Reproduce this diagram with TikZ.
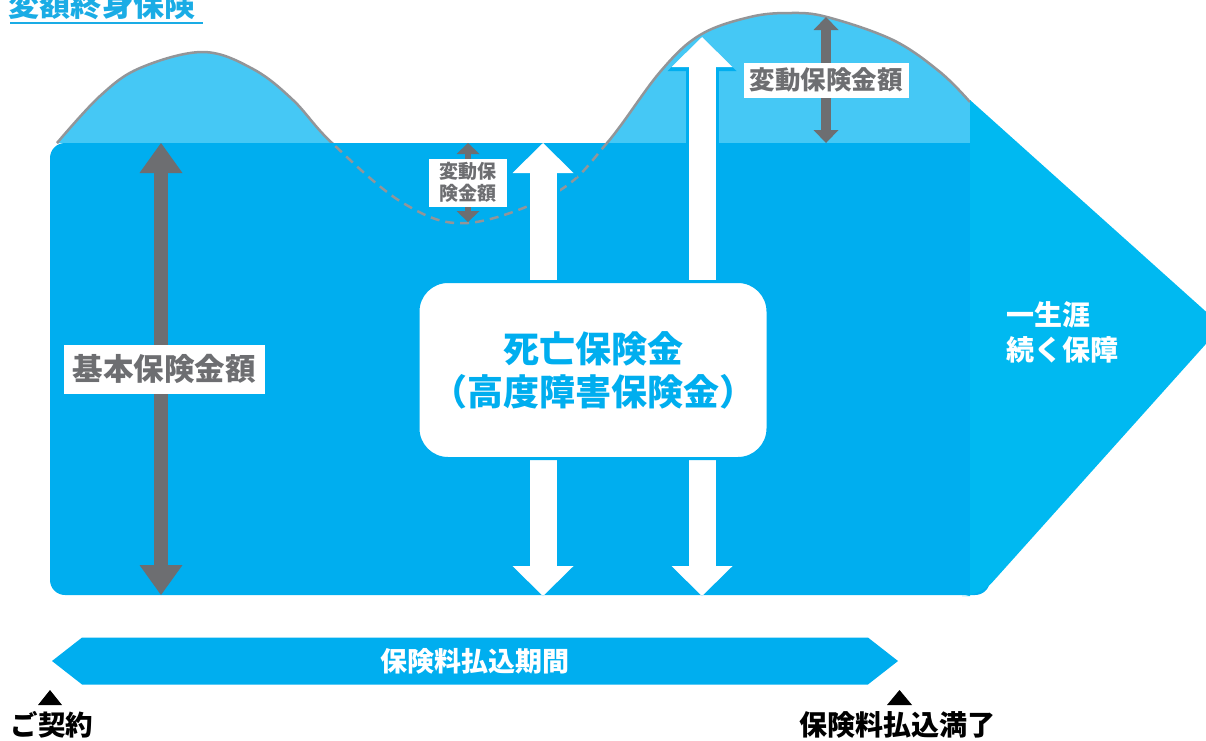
\documentclass[tikz,border=0pt]{standalone}
\usepackage{fontspec}
\setmainfont{Noto Sans CJK JP}
\usepackage{xcolor}
\definecolor{boxblue}{RGB}{0,174,239}
\definecolor{waveblue}{RGB}{69,200,245}
\definecolor{tipblue}{RGB}{0,185,241}
\definecolor{linegray}{RGB}{147,149,152}
\definecolor{labelgray}{RGB}{109,110,113}
\definecolor{titleblue}{RGB}{26,172,229}
\usepackage{tikz}
\usetikzlibrary{shapes.symbols}
\usetikzlibrary{positioning}
\usetikzlibrary{arrows.meta}

\newcommand\fs[2]{\fontsize{#1}{#2}\selectfont}
\newcommand\wavepath{plot[smooth,tension=0.6] coordinates {(57,143) (100,96) (140,68) (203,52) (253,69) (293,100) (332,143) (403,203) (468,223) (557,192) (607,143) (660,72) (700,35) (750,17) (790,13) (827,17) (893,40) (940,72) (970,102)}}

\begin{document}
\begin{tikzpicture}[x=1pt,y=-1pt,every node/.style={inner sep=0pt,outer sep=0pt,align=center},
  graybox/.style={fill=white,text=labelgray},
  grayarrow/.style n args={3}{draw=labelgray,line width=#1,<->,>={Triangle[width=#2,length=#3,line width=0pt]}},
  whitearrow/.style n args={4}{draw=#4,line width=#1,<->,>={Triangle[width=#2,length=#3,line width=0pt]}}]
\useasboundingbox (0,0) rectangle (1206,740);
\clip (0,0) rectangle (1206,740);

% wave above the base amount
\fill[waveblue] \wavepath -- (970,143) -- cycle;
\draw[linegray,line width=2.5] \wavepath;

% base box and the life-long part
\fill[boxblue,rounded corners=15] (50,143) rectangle (990,595);
\fill[tipblue] (970,100) -- (1222,326) [rounded corners=18] -- (980,596) [sharp corners] -- (970,596) -- cycle;
\begin{scope}
\clip (50,143) rectangle (970,595);
\draw[linegray,line width=2.5,dash pattern=on 9pt off 6pt] \wavepath;
\end{scope}

\coordinate (baseTop) at (161,143);
\coordinate (baseBot) at (161,595);
\coordinate (dipTop) at (468,143);
\coordinate (dipBot) at (468,222);
\coordinate (peakTop) at (826,17);
\coordinate (peakBot) at (826,143);
\coordinate (payA1) at (543,143);
\coordinate (payA2) at (543,596);
\coordinate (payB1) at (702,37);
\coordinate (payB2) at (702,596);

% amounts
\draw[grayarrow={14}{43}{30}] (baseTop) -- node[graybox,xshift=3,minimum width=201,minimum height=49,font=\fs{30.5}{30}\bfseries] (kihon) {基本保険金額} (baseBot);
\draw[grayarrow={6}{23}{11}] (dipTop) -- node[graybox,minimum width=78,minimum height=48,font=\fs{19}{22}\bfseries] (hendoS) {変動保\\険金額} (dipBot);
\draw[grayarrow={10}{25}{13}] (peakTop) -- node[graybox,minimum width=165,minimum height=35,font=\fs{25.5}{25}\bfseries] (hendo) {変動保険金額} (peakBot);

% death benefit
\draw[whitearrow={33}{69}{34}{boxblue}] (payA1) -- (payA2);
\draw[whitearrow={33}{69}{34}{boxblue}] (payB1) -- (payB2);
\draw[whitearrow={27}{61}{30}{white}] (payA1) -- (payA2);
\draw[whitearrow={27}{61}{30}{white}] (payB1) -- (payB2);
\node[fill=white,draw=boxblue,line width=3,rounded corners=30,minimum width=350,minimum height=177,text=boxblue,font=\fs{36}{43}\bfseries] (shibo) at (593,370) {死亡保険金\\（高度障害保険金）};

\node[anchor=west,align=left,text=white,font=\fs{28}{35}\bfseries] (shogai) at (1006,332) {一生涯\\続く保障};

% payment period
\node[signal,signal to=west and east,signal pointer angle=76,fill=boxblue,text=white,minimum width=846,minimum height=47,font=\fs{27}{27}\bfseries] (kikan) at (475,661) {保険料払込期間};
\node[font=\fs{27.5}{27}\bfseries] (keiyaku) at (52,725) {ご契約};
\node[font=\fs{28}{28}\bfseries] (manryo) at (897,725) {保険料払込満了};
\fill (38,705) -- (62,705) -- (50,690) -- cycle;
\fill (887,705) -- (912,705) -- (899.5,690) -- cycle;

\node[anchor=west,text=titleblue,font=\fs{31}{31}\bfseries] (title) at (9,5) {変額終身保険};
\draw[titleblue,line width=2.5] (10,23) -- (203,23);
\end{tikzpicture}
\end{document}
